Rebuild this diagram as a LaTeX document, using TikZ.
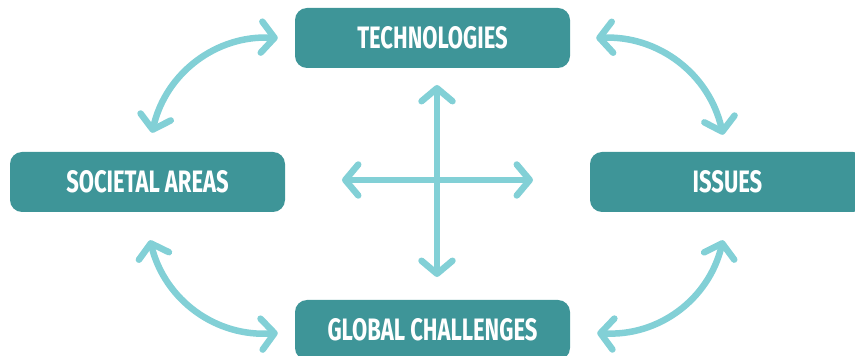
\documentclass[tikz,border=0pt]{standalone}
\usepackage{fontspec}
\setmainfont{Fira Sans}[FakeStretch=0.71]
\usetikzlibrary{arrows.meta}
\definecolor{boxteal}{HTML}{3E9598}
\definecolor{arrowcyan}{HTML}{82D0D6}
\begin{document}
\begin{tikzpicture}[x=1pt,y=1pt,
  box/.style={fill=boxteal, rounded corners=12pt, minimum width=275pt, minimum height=60pt,
    text=white, font=\fontsize{31}{34}\selectfont\bfseries, inner sep=0pt},
  link/.style={draw=arrowcyan, line width=6.5pt, line cap=round,
    {Straight Barb[length=13pt,width=31pt,round]}-{Straight Barb[length=13pt,width=31pt,round]}}]
\useasboundingbox (0,0) rectangle (855,356);
\node[box] (tech) at (432.5,318) {TECHNOLOGIES};
\node[box] (soc)  at (147.5,174) {SOCIETAL AREAS};
\node[box] (iss)  at (727.5,174) {ISSUES};
\node[box] (glob) at (432.5,26)  {GLOBAL CHALLENGES};
% curve end points
\coordinate (tlA) at ([xshift=-17pt]tech.west);
\coordinate (tlB) at ([xshift=4.5pt,yshift=19pt]soc.north);
\coordinate (trA) at ([xshift=26pt]tech.east);
\coordinate (trB) at ([xshift=-4.5pt,yshift=17pt]iss.north);
\coordinate (blA) at ([xshift=2.5pt,yshift=-28pt]soc.south);
\coordinate (blB) at ([xshift=-17pt,yshift=-3pt]glob.west);
\coordinate (brA) at ([xshift=27pt,yshift=-3pt]glob.east);
\coordinate (brB) at ([xshift=-4.5pt,yshift=-28pt]iss.south);
\draw[link] (tlB) to[bend left=40] (tlA);
\draw[link] (trA) to[bend left=40] (trB);
\draw[link] (blA) to[bend right=40] (blB);
\draw[link] (brA) to[bend right=40] (brB);
% cross
\coordinate (cup) at (437,271);
\coordinate (cdown) at (437,79);
\coordinate (cleft) at (342,176);
\coordinate (cright) at (533,176);
\draw[link] (cup) -- (cdown);
\draw[link] (cleft) -- (cright);
\end{tikzpicture}
\end{document}
